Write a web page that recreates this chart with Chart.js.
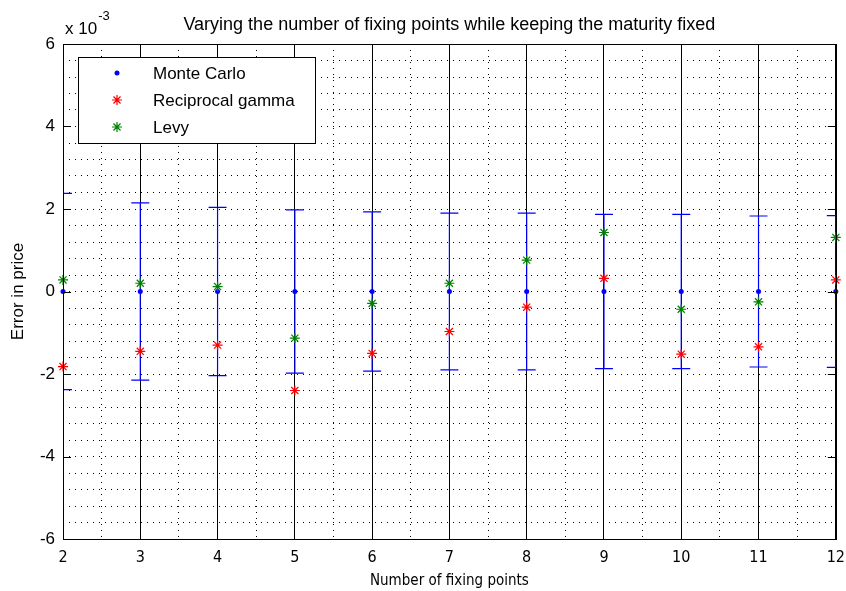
<!DOCTYPE html>
<html>
<head>
<meta charset="utf-8">
<script src="https://cdn.jsdelivr.net/npm/chart.js@4"></script>
<style>
    html, body { margin: 0; padding: 0; background: #fff; }
    #wrap { width: 846px; height: 591px; }
</style>
</head>
<body>
<div id="wrap"><canvas id="graph" width="846" height="591"></canvas></div>
<script>
// values are in units of 1e-3 (axis multiplier shown top left)
const fixingPoints = [2, 3, 4, 5, 6, 7, 8, 9, 10, 11, 12];
const monteCarlo = [0, 0, 0, 0, 0, 0, 0, 0, 0, 0, 0];
const monteCarloError = [2.38, 2.15, 2.04, 1.98, 1.93, 1.90, 1.90, 1.87, 1.87, 1.83, 1.84];
const reciprocalGamma = [-1.82, -1.45, -1.30, -2.40, -1.50, -0.97, -0.38, 0.32, -1.52, -1.34, 0.28];
const levy = [0.28, 0.20, 0.12, -1.13, -0.29, 0.20, 0.76, 1.43, -0.43, -0.25, 1.31];
const seriesNames = ['Monte Carlo', 'Reciprocal gamma', 'Levy'];
const yTickLabels = ['-6', '-4', '-2', '0', '2', '4', '6'];

const FONT = "'Liberation Sans', Arial, sans-serif";
const NARROW = "'DejaVu Sans Condensed', 'Liberation Sans Narrow', 'Liberation Sans', sans-serif";

window.addEventListener('DOMContentLoaded', on_load);

function toPoints(values) {
    return fixingPoints.map((x, i) => ({x: x, y: values[i]}));
}

function errorStems() {
    let pts = [];
    fixingPoints.forEach((x, i) => {
        pts.push({x: x, y: monteCarlo[i] - monteCarloError[i]});
        pts.push({x: x, y: monteCarlo[i] + monteCarloError[i]});
        pts.push({x: x, y: null});
    });
    return pts;
}

function errorCaps() {
    let pts = [];
    fixingPoints.forEach((x, i) => {
        pts.push({x: x, y: monteCarlo[i] - monteCarloError[i]});
        pts.push({x: x, y: monteCarlo[i] + monteCarloError[i]});
    });
    return pts;
}

// box round the axes, inward ticks, multiplier text
const framePlugin = {
    id: 'frame',
    afterDatasetsDraw(chart) {
        const {ctx, chartArea: a, scales} = chart;
        ctx.save();
        ctx.strokeStyle = '#000';
        ctx.lineWidth = 1;
        ctx.strokeRect(Math.round(a.left) + 0.5, Math.round(a.top) + 0.5,
            Math.round(a.right - a.left), Math.round(a.bottom - a.top));
        ctx.beginPath();
        yTickLabels.forEach(t => {
            const y = Math.round(scales.y.getPixelForValue(Number(t))) + 0.5;
            ctx.moveTo(a.left, y); ctx.lineTo(a.left + 8, y);
            ctx.moveTo(a.right - 8, y); ctx.lineTo(a.right, y);
        });
        ctx.stroke();
        ctx.fillStyle = '#000';
        ctx.textBaseline = 'alphabetic';
        ctx.textAlign = 'left';
        ctx.font = '17px ' + FONT;
        ctx.fillText('x 10', a.left + 2, a.top - 10);
        const w = ctx.measureText('x 10').width;
        ctx.font = '13px ' + FONT;
        ctx.fillText('-3', a.left + 3 + w, a.top - 24);
        ctx.restore();
    }
};

// MATLAB style boxed legend in the upper left of the axes
const boxLegendPlugin = {
    id: 'boxLegend',
    afterDraw(chart) {
        const {ctx, chartArea: a} = chart;
        const left = a.left + 15, top = a.top + 13, w = 237, h = 86;
        ctx.save();
        ctx.fillStyle = '#fff';
        ctx.fillRect(left, top, w, h);
        ctx.strokeStyle = '#000';
        ctx.lineWidth = 1;
        ctx.strokeRect(Math.round(left) + 0.5, Math.round(top) + 0.5, w, h);
        seriesNames.forEach((name, i) => {
            const ds = chart.data.datasets.find(d => d.label === name);
            const y = top + 16 + i * 27;
            ctx.fillStyle = ds.pointBackgroundColor;
            ctx.strokeStyle = ds.pointBorderColor;
            ctx.lineWidth = ds.pointBorderWidth;
            Chart.helpers.drawPoint(ctx, {
                pointStyle: ds.pointStyle, radius: ds.pointRadius,
                rotation: 0, borderWidth: ds.pointBorderWidth
            }, left + 39, y);
            ctx.fillStyle = '#000';
            ctx.font = '17px ' + FONT;
            ctx.textBaseline = 'middle';
            ctx.textAlign = 'left';
            ctx.fillText(name, left + 75, y + 1);
        });
        ctx.restore();
    }
};

function on_load() {
    const graph = document.getElementById('graph');
    Chart.defaults.font.family = FONT;
    Chart.defaults.color = '#000';

    const chart = new Chart(graph, {
        type: 'scatter',
        data: {
            datasets: [
                {
                    label: 'Levy',
                    data: toPoints(levy),
                    pointStyle: 'star',
                    pointRadius: 5,
                    pointBorderWidth: 1.2,
                    pointBorderColor: '#008000',
                    pointBackgroundColor: '#008000',
                    clip: false
                },
                {
                    label: 'Reciprocal gamma',
                    data: toPoints(reciprocalGamma),
                    pointStyle: 'star',
                    pointRadius: 5,
                    pointBorderWidth: 1.2,
                    pointBorderColor: '#ff0000',
                    pointBackgroundColor: '#ff0000',
                    clip: false
                },
                {
                    label: 'Monte Carlo',
                    data: toPoints(monteCarlo),
                    pointStyle: 'circle',
                    pointRadius: 2.5,
                    pointBorderWidth: 0,
                    pointBorderColor: '#0000ff',
                    pointBackgroundColor: '#0000ff',
                    clip: false
                },
                {
                    label: 'caps',
                    data: errorCaps(),
                    pointStyle: 'line',
                    pointRadius: 9,
                    pointBorderWidth: 1.2,
                    pointBorderColor: '#0000ff',
                    clip: 0
                },
                {
                    label: 'stems',
                    type: 'line',
                    data: errorStems(),
                    borderColor: '#0000ff',
                    borderWidth: 1.2,
                    pointRadius: 0,
                    spanGaps: false,
                    clip: 0
                }
            ]
        },
        options: {
            responsive: false,
            animation: false,
            devicePixelRatio: 1,
            layout: {padding: {left: 0, right: 8, top: 0, bottom: 0}},
            plugins: {
                legend: {display: false},
                tooltip: {enabled: false},
                title: {
                    display: true,
                    fullSize: false,
                    text: 'Varying the number of fixing points while keeping the maturity fixed',
                    font: {size: 18, weight: 'normal', family: FONT},
                    color: '#000',
                    padding: {top: 14, bottom: 8.4}
                }
            },
            scales: {
                x: {
                    type: 'linear',
                    position: 'bottom',
                    min: 2,
                    max: 12,
                    afterFit: s => { s.height = 52; s.paddingLeft = 0; s.paddingRight = 0; },
                    ticks: {
                        stepSize: 0.5,
                        autoSkip: false,
                        maxRotation: 0,
                        padding: 9,
                        font: {size: 16, family: NARROW},
                        callback: v => Number.isInteger(v) ? String(v) : ''
                    },
                    grid: {color: '#000', lineWidth: 1, drawTicks: false},
                    border: {display: false, dash: [1, 5]},
                    title: {
                        display: true,
                        text: 'Number of fixing points',
                        font: {size: 15, family: NARROW},
                        padding: {top: 0, bottom: 1}
                    }
                },
                xMajor: {
                    type: 'linear',
                    position: 'top',
                    min: 2,
                    max: 12,
                    afterFit: s => { s.paddingLeft = 0; s.paddingRight = 0; },
                    ticks: {display: false, stepSize: 1},
                    grid: {color: '#000', lineWidth: 1, drawTicks: false},
                    border: {display: false}
                },
                y: {
                    type: 'linear',
                    min: -6,
                    max: 6,
                    afterFit: s => { s.width = 63; },
                    ticks: {
                        stepSize: 0.4,
                        autoSkip: false,
                        padding: 8,
                        font: {size: 17, family: FONT},
                        callback: v => {
                            const r = Math.round(v);
                            return (Math.abs(v - r) < 1e-6 && yTickLabels.includes(String(r))) ? String(r) : '';
                        }
                    },
                    grid: {color: '#000', lineWidth: 1, drawTicks: false},
                    border: {display: false, dash: [1, 5]},
                    title: {
                        display: true,
                        text: 'Error in price',
                        font: {size: 17, family: FONT},
                        padding: {top: 8, bottom: 0}
                    }
                }
            }
        },
        plugins: [framePlugin, boxLegendPlugin]
    });
}
</script>
</body>
</html>
